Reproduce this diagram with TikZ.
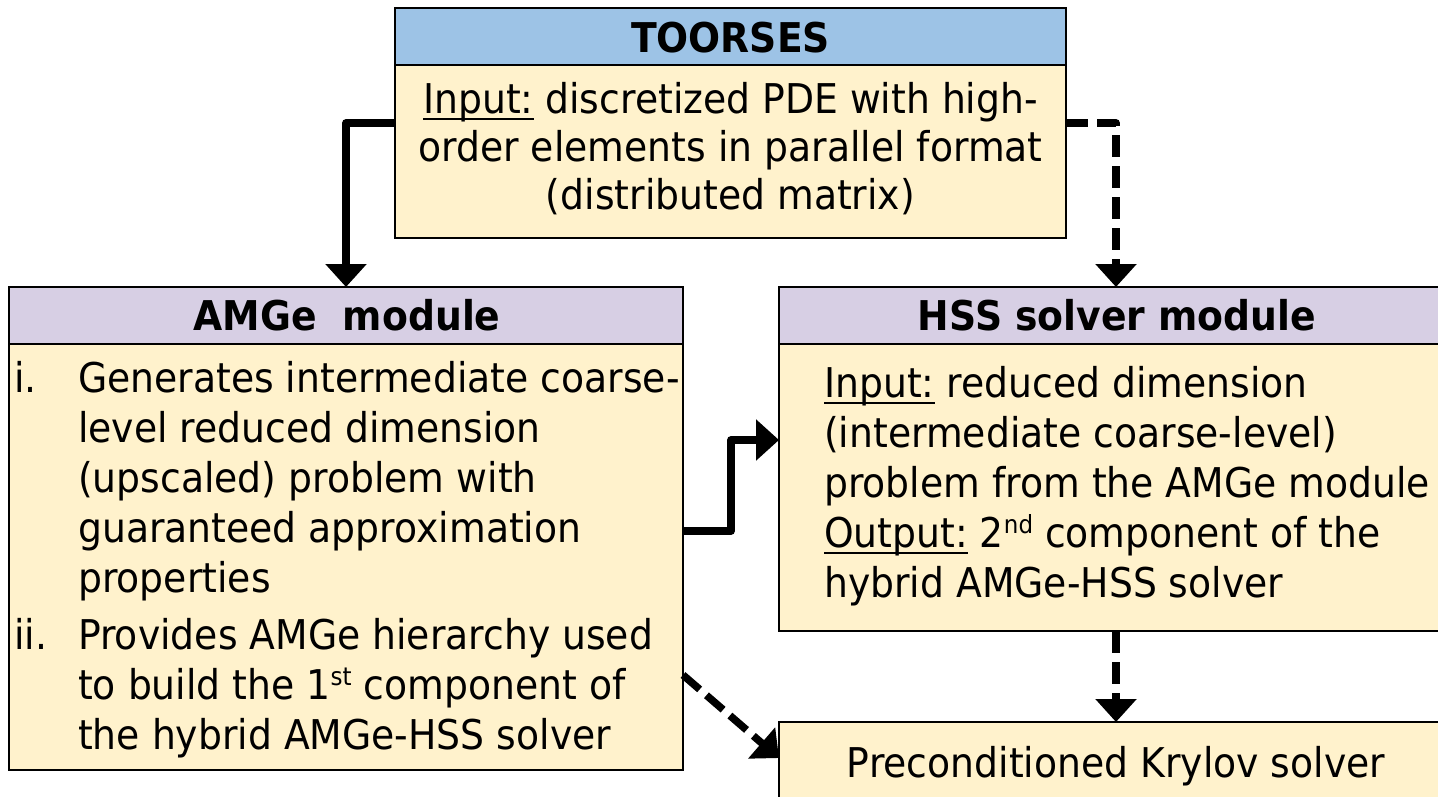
\documentclass[tikz,border=0pt]{standalone}
\usepackage{fontspec}
\setmainfont[FakeStretch=0.92]{DejaVu Sans}
\usetikzlibrary{arrows.meta,calc}
\definecolor{hblue}{HTML}{9DC3E6}
\definecolor{hpurple}{HTML}{D7CFE4}
\definecolor{byellow}{HTML}{FFF2CC}
\newsavebox\ulbox
\newcommand\ulin[1]{\sbox\ulbox{#1}\rlap{\rule[-6.5pt]{\wd\ulbox}{2pt}}\usebox\ulbox}
\newcommand\sups[1]{\raisebox{14pt}{\fontsize{25}{25}\selectfont #1}}
\begin{document}
\begin{tikzpicture}[x=1pt,y=-1pt,
  box/.style={draw=black, line width=2pt, anchor=north west, inner sep=0pt, outer sep=0pt},
  txt/.style={font=\fontsize{41}{50}\selectfont, inner sep=0pt},
  ttl/.style={font=\fontsize{41}{50}\selectfont\bfseries, inner sep=0pt, anchor=base},
  solidarr/.style={line width=7.5pt, line join=round, -{Triangle[width=40pt,length=23pt]}},
  dasharr/.style={solidarr, dash pattern=on 22pt off 9pt}]
\useasboundingbox (0,0) rectangle (1438,796);
\fill[white] (0,0) rectangle (1438,796);
% TOORSES
\node[box, fill=hblue, minimum width=671pt, minimum height=57pt] (tooh) at (395,8) {};
\node[box, fill=byellow, minimum width=671pt, minimum height=173pt] (toob) at (395,65) {};
\node[ttl] (toot) at (730.5,52) {TOORSES};
\node[txt, anchor=base, align=center, font=\fontsize{41}{48}\selectfont] (toox) at (730.5,209)
  {\ulin{Input:} discretized PDE with high-\\order elements in parallel format\\(distributed matrix)};
% AMGe
\node[box, fill=hpurple, minimum width=674pt, minimum height=57pt] (amgeh) at (9,287) {};
\node[box, fill=byellow, minimum width=674pt, minimum height=426pt] (amgeb) at (9,344) {};
\node[ttl] (amt) at (347,330) {AMGe\ \ module};
\node[txt, anchor=base west, align=left] (amx) at (14,749)
  {\makebox[64pt][l]{i.}Generates intermediate coarse-\\
   \hspace*{64pt}level reduced dimension\\
   \hspace*{64pt}(upscaled) problem with\\
   \hspace*{64pt}guaranteed approximation\\
   \hspace*{64pt}properties\\[7pt]
   \makebox[64pt][l]{ii.}Provides AMGe hierarchy used\\
   \hspace*{64pt}to build the 1\sups{st} component of\\
   \hspace*{64pt}the hybrid AMGe-HSS solver};
% HSS
\node[box, fill=hpurple, minimum width=674pt, minimum height=57pt] (hssh) at (779,287) {};
\node[box, fill=byellow, minimum width=674pt, minimum height=287pt] (hssb) at (779,344) {};
\node[ttl] (hst) at (1117,330) {HSS solver module};
\node[txt, anchor=base west, align=left] (hsx) at (824,597)
  {\ulin{Input:} reduced dimension\\
   (intermediate coarse-level)\\
   problem from the AMGe module\\
   \ulin{Output:} 2\sups{nd} component of the\\
   hybrid AMGe-HSS solver};
% Krylov
\node[box, fill=byellow, minimum width=674pt, minimum height=118pt] (kry) at (779,722) {};
\node[txt, anchor=base] (krt) at (1116,777) {Preconditioned Krylov solver};
% connectors
\coordinate (mid) at ($(amgeb.east)!0.5!(hssb.west)$);
\draw[solidarr] ([yshift=28.5pt]toob.west) -| (amgeh.north);
\draw[dasharr] ([yshift=28.5pt]toob.east) -| (hssh.north);
\draw[solidarr] ([yshift=26pt]amgeb.east) -| (mid) |- ([yshift=47.5pt]hssb.west);
\draw[dasharr] (hssb.south) -- (kry.north);
\draw[dasharr] ([yshift=-118pt]amgeb.east) -- ([yshift=23pt]kry.west);
\end{tikzpicture}
\end{document}
